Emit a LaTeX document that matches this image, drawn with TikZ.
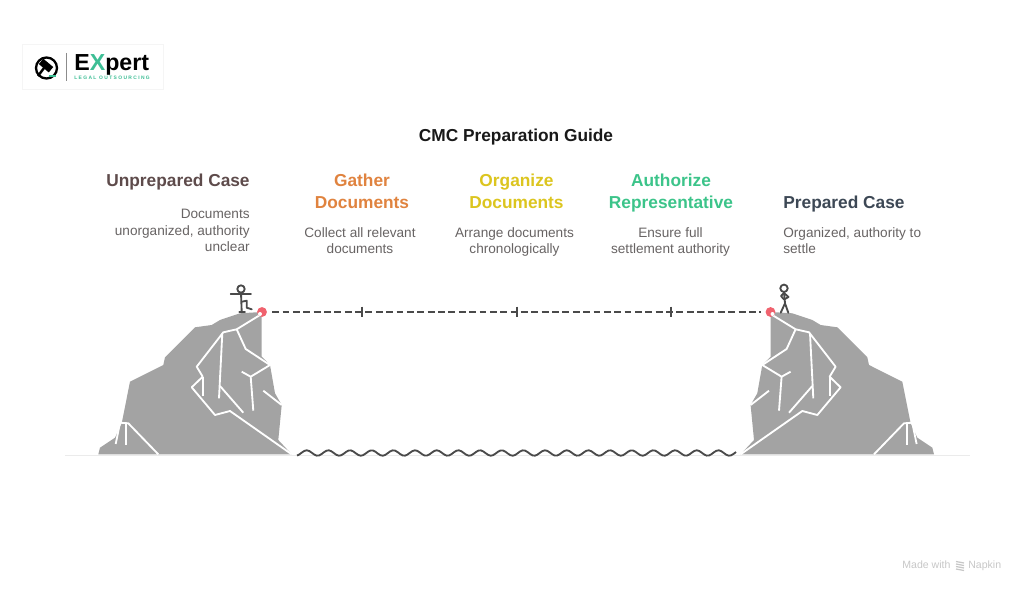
\documentclass[tikz,border=0pt]{standalone}
\usepackage{fontspec}
\setmainfont{Liberation Sans}
\definecolor{rockgray}{HTML}{A3A3A3}
\definecolor{linegray}{HTML}{4A4A4A}
\definecolor{bodygray}{HTML}{686464}
\definecolor{dotred}{HTML}{F0626E}
\definecolor{unpreparedcol}{HTML}{5E4B4B}
\definecolor{gathercol}{HTML}{E0833F}
\definecolor{organizecol}{HTML}{DCC51F}
\definecolor{authorizecol}{HTML}{3CC48A}
\definecolor{preparedcol}{HTML}{3D4855}
\definecolor{logogreen}{HTML}{3DBE95}
\tikzset{
    heading/.style = {font=\fontsize{9.85pt}{12.4pt}\selectfont\bfseries, align=center},
    bodytext/.style = {font=\fontsize{7.75pt}{9.3pt}\selectfont, text=bodygray, align=center},
    crack/.style = {white, line width=1.05pt, line join=round},
    figure/.style = {linegray, line width=1.05pt, line cap=round, line join=round},
    reddot/.style = {circle, fill=dotred, inner sep=0pt, minimum size=5.6pt},
    credit/.style = {anchor=base west, inner sep=0pt, text=black!22, font=\fontsize{6pt}{7pt}\selectfont},
    rock/.pic = {
        \fill[rockgray] (98.3,454.3) -- (100,447.7) -- (115,437.7) -- (121.7,423.3) -- (130,381.7) -- (163.3,365)
            -- (165,357.3) -- (195,327.3) -- (211.7,325) -- (220,320) -- (240,313.3) -- (256.7,312.3) -- (261.7,315)
            -- (261.7,356.7) -- (270,365) -- (275,393.3) -- (281.7,405) -- (278.3,440) -- (291.7,454.3) -- cycle;
        \draw[crack] (260,315) -- (236.7,329.3) -- (223.3,332.3) -- (196.7,366.7) -- (202.7,376.7) -- (191.7,387.3)
            -- (215,415) -- (230,411) -- (291.7,454.3);
        \draw[crack] (236.7,329.3) -- (245.7,349) -- (270,365) -- (250.7,376.7) -- (241.7,371.7);
        \draw[crack] (250.7,376.7) -- (253.3,410.7);
        \draw[crack] (263.3,390.7) -- (281.7,405);
        \draw[crack] (222.3,333.3) -- (219,398.3);
        \draw[crack] (220,386) -- (243.3,412.7);
        \draw[crack] (202.7,376.7) -- (202.7,396);
        \draw[crack] (158.3,454.3) -- (128.3,423.3) -- (120,422.7) -- (115.7,444);
        \draw[crack] (125.7,423.3) -- (125.7,445);
    }
}
\begin{document}
\begin{tikzpicture}[x=0.02cm, y=-0.02cm]
    \useasboundingbox (0,0) rectangle (1024,591);
    \fill[white] (0,0) rectangle (1024,591);

    % logo
    \draw[black!4, line width=0.4pt] (22,44) rectangle (163,89);
    \draw[black, line width=1.3pt] (46.5,68) circle (10.5);
    \fill[black, rotate around={-40:(45,66)}] (39,61.5) rectangle (52,68.5);
    \draw[black, line width=1.4pt] (44,68) -- (38,76);
    \draw[logogreen, line width=1pt] (49,76) -- (56,76);
    \draw[black!45, line width=0.5pt] (66,53) -- (66,81);
    \node[anchor=base west, inner sep=0pt, font=\fontsize{13.2pt}{15pt}\selectfont\bfseries] (logoname) at (74,71) {E\textcolor{logogreen}{X}pert};
    \node[anchor=base west, inner sep=0pt, text=logogreen, font=\fontsize{2.8pt}{4pt}\selectfont\bfseries] (logosub) at (74,80) {L E G A L\ \ O U T S O U R C I N G};

    % title
    \node[anchor=base, inner sep=0pt, font=\fontsize{9.85pt}{12pt}\selectfont\bfseries, text=black!90] (title) at (516,142) {CMC Preparation Guide};

    % headings
    \node[heading, text=unpreparedcol, anchor=east, inner sep=0pt] (unprepared) at (250,182) {Unprepared Case};
    \node[heading, text=gathercol] (gather) at (362,191) {Gather\\Documents};
    \node[heading, text=organizecol] (organize) at (516.5,191) {Organize\\Documents};
    \node[heading, text=authorizecol] (authorize) at (671,193) {Authorize\\Representative};
    \node[heading, text=preparedcol, anchor=west, inner sep=0pt] (prepared) at (783,204) {Prepared Case};

    % text under the headings
    \node[bodytext, align=right, anchor=north east, inner sep=0pt] (unpreparedtext) at (250,209) {Documents\\unorganized, authority\\unclear};
    \node[bodytext, anchor=north] (gathertext) at (360,221) {Collect all relevant\\documents};
    \node[bodytext, anchor=north] (organizetext) at (514.5,221) {Arrange documents\\chronologically};
    \node[bodytext, anchor=north] (authorizetext) at (670.5,221) {Ensure full\\settlement authority};
    \node[bodytext, align=left, anchor=north west, inner sep=0pt] (preparedtext) at (783,227) {Organized, authority to\\settle};

    % ground and rocks
    \draw[black!8, line width=0.5pt] (65,455) -- (970,455);
    \pic at (0,0) {rock};
    \pic[xscale=-1] at (1032.3,0) {rock};

    % water
    \draw[linegray, line width=1.05pt] plot[smooth, domain=297:736, samples=180] (\x, {453-2.7*cos(16.613*(\x-306.7))});

    % bridge
    \node[reddot] (leftdot) at (262,312) {};
    \node[reddot] (rightdot) at (770.5,312) {};
    \fill[white] (260,314) circle (2);
    \fill[white] (772.5,314) circle (2);
    \draw[linegray, line width=0.9pt, dash pattern=on 3.9pt off 2pt, shorten >=2.4pt, shorten <=2.8pt] (leftdot) -- (rightdot);
    \foreach \tickx/\tickname in {362/tickgather, 517/tickorganize, 671/tickauthorize}{
        \coordinate (\tickname) at (\tickx,312);
        \draw[linegray, line width=0.9pt] ([yshift=3pt]\tickname) -- ([yshift=-3pt]\tickname);
    }

    % figure on the left
    \draw[figure] (241,289) circle (3.7);
    \draw[figure] (230.7,294.3) -- (251,294.3);
    \draw[figure] (241,292.7) -- (241.7,311.7);
    \draw[figure] (241.7,301.7) -- (246.7,300.7) -- (246.7,307.7) -- (251.7,309.3);
    \draw[figure] (239.3,312.3) -- (245,312.3);

    % figure on the right
    \draw[figure] (784,288.3) circle (3.7);
    \draw[figure] (784,292) -- (785,303.3) -- (780.7,312.7);
    \draw[figure] (785,303.3) -- (788.3,312.7);
    \draw[figure] (784,293) -- (781,296) -- (784,299.5) -- (788.5,297) -- (784,293);

    % credit
    \node[credit] (madewith) at (902,568.5) {Made with};
    \foreach \rowy in {561.5,564,566.5,569}{
        \draw[black!22, line width=0.7pt] (956,\rowy) -- (964,\rowy+1.5);
    }
    \node[credit] (napkin) at (968,568.5) {Napkin};
\end{tikzpicture}
\end{document}
